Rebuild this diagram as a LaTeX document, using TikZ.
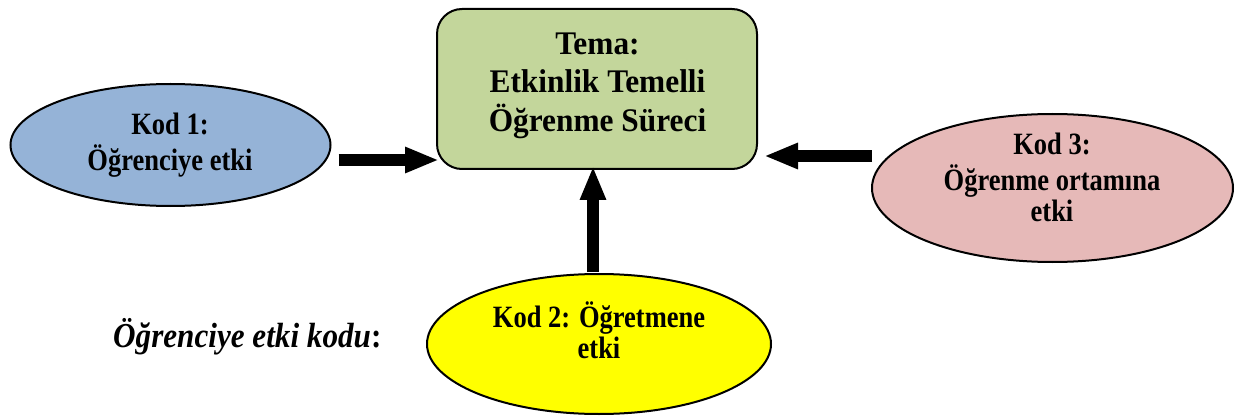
\documentclass[tikz,border=0pt]{standalone}
\usepackage{fontspec}
\setmainfont{Liberation Serif}
\newfontfamily\headfont[FakeStretch=0.95]{Liberation Serif}
\newfontfamily\condfont[FakeStretch=0.855]{Liberation Serif}
\newfontfamily\labfont[FakeStretch=0.89]{Liberation Serif}
\usetikzlibrary{arrows.meta,shapes.geometric}
\definecolor{temagreen}{HTML}{C3D69B}
\definecolor{kodblue}{HTML}{95B3D7}
\definecolor{kodpink}{HTML}{E6B9B8}
\definecolor{kodyellow}{HTML}{FFFF00}
\tikzset{
  shapeline/.style={draw=black, line width=2pt},
  temabox/.style={shapeline, rectangle, rounded corners=25pt, fill=temagreen,
    minimum width=320pt, minimum height=160pt, inner sep=0pt},
  kodell/.style={shapeline, ellipse, inner sep=0pt},
  tematext/.style={anchor=base, inner sep=0pt, font=\headfont\fontsize{33}{37.5}\selectfont\bfseries},
  kodtext/.style={anchor=base, inner sep=0pt, font=\condfont\fontsize{31}{31}\selectfont\bfseries},
  bigarrow/.style={line width=12pt, -{Triangle[length=34pt,width=24pt]}},
}
\begin{document}
\begin{tikzpicture}[x=1pt,y=-1pt]
\path[use as bounding box] (0,0) rectangle (1235,417);

\node[temabox] (tema) at (597,89) {};
\node[tematext] (tematxt) at (597.5,55)
  {\begin{tabular}[t]{@{}c@{}}Tema:\\Etkinlik Temelli\\Öğrenme Süreci\end{tabular}};

\node[kodell, fill=kodblue, minimum width=320pt, minimum height=122pt] (k1) at (170.5,145) {};
\node[kodtext] (k1txt) at (170,135)
  {\begin{tabular}[t]{@{}c@{}}Kod 1:\\Öğrenciye etki\end{tabular}};

\node[kodell, fill=kodpink, minimum width=361pt, minimum height=148pt] (k3) at (1052.5,188) {};
\node[kodtext] (k3txt) at (1052,155)
  {\begin{tabular}[t]{@{}c@{}}Kod 3:\\Öğrenme ortamına\\etki\end{tabular}};

\node[kodell, fill=kodyellow, minimum width=344pt, minimum height=140pt] (k2) at (599,344) {};
\node[kodtext] (k2txt) at (599,327)
  {\begin{tabular}[t]{@{}c@{}}Kod 2: Öğretmene\\etki\end{tabular}};

\node[anchor=base west, inner sep=0pt, font=\labfont\fontsize{35}{40}\selectfont] (lab) at (113,347)
  {\textbf{\textit{Öğrenciye etki kodu}:}};

\coordinate (a1) at ([xshift=7pt,yshift=-15pt]k1.east);
\draw[bigarrow] (a1) -- ([xshift=3pt]tema.west |- a1);

\coordinate (a3) at ([xshift=1pt,yshift=32pt]k3.west);
\draw[bigarrow] (a3) -- ([xshift=6pt]tema.east |- a3);

\coordinate (a2) at ([xshift=-6pt,yshift=1pt]k2.north);
\draw[bigarrow] (a2) -- ([yshift=4pt]tema.south -| a2);
\end{tikzpicture}
\end{document}
